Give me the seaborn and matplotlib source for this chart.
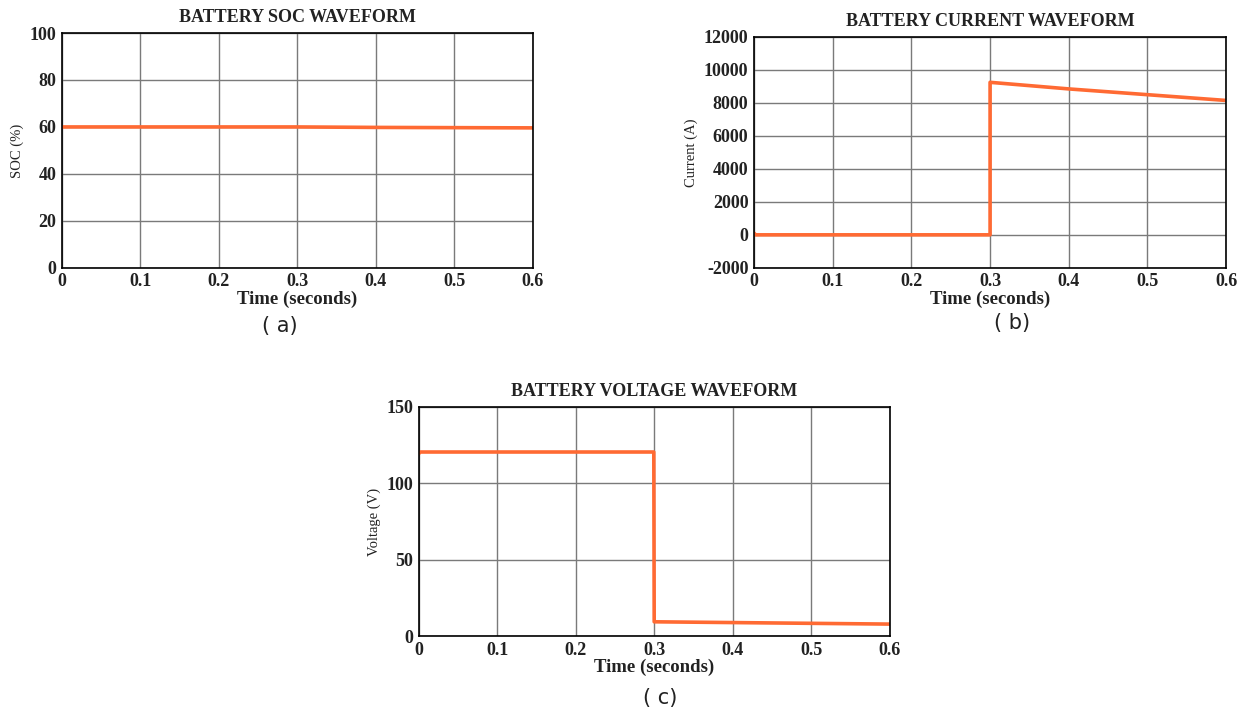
import numpy as np
import pandas as pd
import matplotlib
matplotlib.use("Agg")
import matplotlib.pyplot as plt
import seaborn as sns

# ---- data ----
soc_time = [0.0, 0.1, 0.2, 0.3, 0.4, 0.5, 0.6]
soc_values = [60.0, 60.0, 60.0, 60.0, 59.8, 59.7, 59.6]

cur_time = [0.0, 0.002, 0.3, 0.3, 0.4, 0.5, 0.6]
cur_values = [100, 0, 0, 9250, 8850, 8500, 8150]

volt_time = [0.0, 0.002, 0.2995, 0.3, 0.4, 0.5, 0.6]
volt_values = [119.5, 120.5, 120.5, 9.3, 8.8, 8.3, 7.8]

x_ticks = [0, 0.1, 0.2, 0.3, 0.4, 0.5, 0.6]
x_tick_labels = ["0", "0.1", "0.2", "0.3", "0.4", "0.5", "0.6"]

sns.set_theme(style="whitegrid")
plt.rcParams["font.family"] = ["Liberation Serif", "DejaVu Serif"]

LINE_COLOR = "#FF6A33"
TXT = "#222222"

fig = plt.figure(figsize=(12.39, 7.18), dpi=100)
fig.patch.set_facecolor("white")

specs = [
    dict(rect=[0.050, 0.627, 0.380, 0.327], t=soc_time, v=soc_values,
         title="BATTERY SOC WAVEFORM", ylabel="SOC (%)",
         ylim=(0, 100), yticks=[0, 20, 40, 60, 80, 100], cap="( a)", capxy=(0.226, 0.532)),
    dict(rect=[0.6086, 0.627, 0.381, 0.3215], t=cur_time, v=cur_values,
         title="BATTERY CURRENT WAVEFORM", ylabel="Current (A)",
         ylim=(-2000, 12000), yticks=[-2000, 0, 2000, 4000, 6000, 8000, 10000, 12000],
         cap="( b)", capxy=(0.817, 0.536)),
    dict(rect=[0.338, 0.1142, 0.380, 0.319], t=volt_time, v=volt_values,
         title="BATTERY VOLTAGE WAVEFORM", ylabel="Voltage (V)",
         ylim=(0, 150), yticks=[0, 50, 100, 150], cap="( c)", capxy=(0.533, 0.014)),
]

for s in specs:
    ax = fig.add_axes(s["rect"])
    df = pd.DataFrame({"Time": s["t"], "Value": s["v"]})
    sns.lineplot(data=df, x="Time", y="Value", ax=ax, color=LINE_COLOR,
                 linewidth=2.6, sort=False, estimator=None)
    ax.set_facecolor("white")
    ax.set_xlim(0, 0.6)
    ax.set_ylim(*s["ylim"])
    ax.set_xticks(x_ticks)
    ax.set_xticklabels(x_tick_labels, fontsize=13, fontweight="bold")
    ax.set_yticks(s["yticks"])
    ax.set_yticklabels([str(y) for y in s["yticks"]], fontsize=13, fontweight="bold")
    ax.grid(True, color="#7a7a7a", linewidth=1.0)
    ax.set_axisbelow(True)
    for sp in ax.spines.values():
        sp.set_color("black")
        sp.set_linewidth(1.2)
    ax.tick_params(axis="x", which="both", length=0, pad=4, colors=TXT)
    ax.tick_params(axis="y", which="both", length=0, pad=4, colors=TXT)
    ax.set_title(s["title"], fontsize=13, fontweight="bold", pad=8, color=TXT)
    ax.set_xlabel("Time (seconds)", fontsize=13.5, fontweight="bold", labelpad=0, color=TXT)
    ax.set_ylabel(s["ylabel"], fontsize=10.5, labelpad=4, color=TXT)
    fig.text(s["capxy"][0], s["capxy"][1], s["cap"], fontsize=15,
             family=["DejaVu Sans"], color=TXT, ha="center", va="bottom")

fig.savefig("out.png", dpi=100, facecolor="white")
